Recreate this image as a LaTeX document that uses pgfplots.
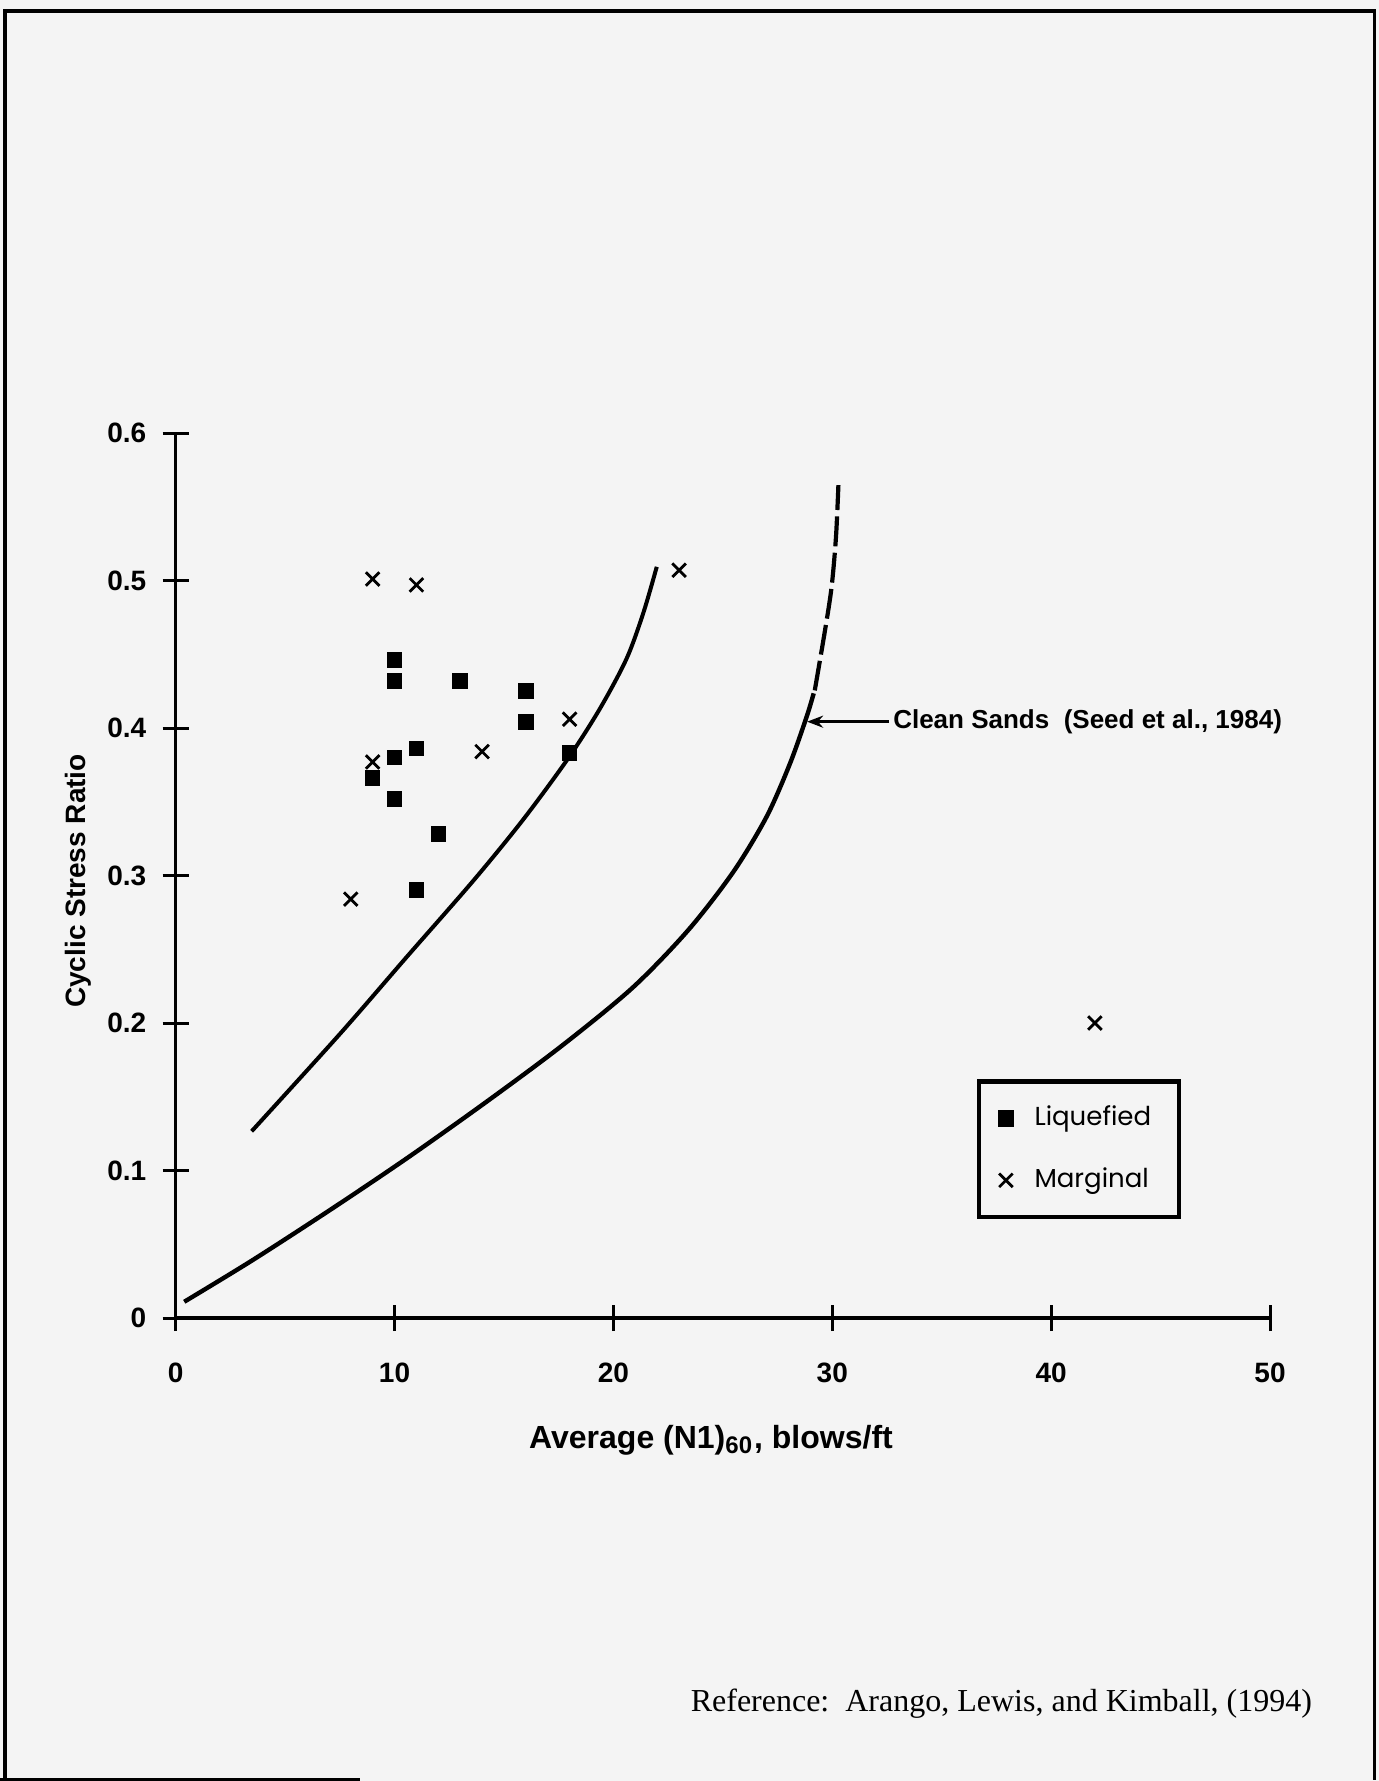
\documentclass[border=0pt]{standalone}
\usepackage{fontspec}
\setmainfont{Liberation Sans}
\newfontfamily\reffont{Liberation Serif}
\newfontfamily\legfont{Poppins}
\usepackage{pgfplots}
\pgfplotsset{compat=1.18}
\usetikzlibrary{arrows.meta}
\definecolor{paper}{RGB}{244,244,244}

\begin{document}
\begin{tikzpicture}
\fill[paper] (0,0) rectangle (344.75pt,-445.25pt);
\useasboundingbox (0,0) rectangle (344.75pt,-445.25pt);
\draw[line width=0.9pt] (1.2pt,-444.9pt) -- (1.2pt,-2.8pt) -- (343.6pt,-2.8pt) -- (343.6pt,-444.9pt);
\draw[line width=0.9pt] (0pt,-444.9pt) -- (90pt,-444.9pt);
\node[font=\reffont\fontsize{8}{9}\selectfont, anchor=base west, inner sep=0pt] at (172.5pt,-427.9pt) {Reference:\ \ Arango, Lewis, and Kimball, (1994)};
\begin{axis}[
  at={(43.925pt,-329.5pt)}, anchor=south west,
  scale only axis, width=273.575pt, height=221.25pt,
  xmin=0, xmax=50, ymin=0, ymax=0.6,
  axis lines=left, axis line style={-},
  x axis line style={line width=1.2pt},
  y axis line style={line width=0.75pt},
  xtick={0,10,20,30,40,50},
  ytick={0,0.1,0.2,0.3,0.4,0.5,0.6},
  tick align=center, major tick length=6.5pt,
  tick style={line width=0.75pt, black},
  /pgf/number format/assume math mode=true,
  ticklabel style={font=\bfseries\fontsize{7}{8}\selectfont},
  xticklabel style={anchor=center, inner sep=0pt, yshift=-10.4pt},
  yticklabel style={anchor=east, inner sep=0pt, xshift=-3.9pt},
  clip=false,
  legend image code/.code={\draw[#1, line width=0.6pt] plot coordinates {(0pt,0pt)};},
  legend style={at={(axis cs:36.6,0.1618)}, anchor=north west, draw=black, line width=1.1pt, fill=none,
    inner xsep=5pt, inner ysep=4pt, row sep=5pt,
    font=\legfont\fontsize{6.5}{8}\selectfont,
    /tikz/every odd column/.append style={column sep=3.4pt}},
  legend cell align=left,
]
% boundary curves
\addplot[black, line width=1pt, smooth, forget plot] coordinates {
  (3.47,0.1266) (7.51,0.1927) (10.55,0.2447) (13.6,0.2965) (15.88,0.338)
  (17.94,0.3796) (19.39,0.4133) (20.6,0.447) (21.37,0.4782) (21.98,0.5093)
};
\addplot[black, line width=1.1pt, smooth, forget plot] coordinates {
  (0.39,0.011) (3.52,0.0393) (7.17,0.0744) (10.67,0.1094) (14.33,0.148)
  (17.68,0.185) (20.88,0.224) (23.42,0.263) (25.48,0.3025) (27.0,0.3399)
  (28.07,0.376) (28.83,0.4077) (29.15,0.4235)
};
\addplot[black, line width=1.05pt, smooth, dash pattern=on 7.5pt off 1.6pt, forget plot] coordinates {
  (29.2,0.4255) (29.67,0.4664) (29.97,0.4958) (30.17,0.5297) (30.28,0.5647)
};
% Liquefied
\addplot[only marks, mark=square*, mark size=1.75pt, black] coordinates {
  (10,0.446) (10,0.432) (13,0.432) (16,0.425) (16,0.404) (18,0.383)
  (11,0.386) (10,0.380) (9,0.366) (10,0.352) (12,0.328) (11,0.290)
};
\addlegendentry{Liquefied}
% Marginal
\addplot[only marks, mark=x, mark size=2.4pt, black, mark options={line width=0.7pt}] coordinates {
  (9,0.501) (11,0.497) (23,0.507) (18,0.406) (14,0.384) (9,0.377) (8,0.284) (42,0.200)
};
\addlegendentry{Marginal}
\draw[line width=0.8pt, -{Stealth[length=4pt,width=3pt]}] (axis cs:32.6,0.4043) -- (axis cs:28.85,0.4043);
\node[anchor=west, inner sep=0pt, font=\bfseries\fontsize{6.5}{8}\selectfont] at (axis cs:32.75,0.4043) {Clean Sands\ \ (Seed et al., 1984)};
\node[font=\bfseries\fontsize{8}{9}\selectfont] at (axis cs:24.46,-0.0827) {Average (N1)\textsubscript{60}, blows/ft};
\node[rotate=90, font=\bfseries\fontsize{7}{9}\selectfont] at (axis cs:-4.46,0.2963) {Cyclic Stress Ratio};
\end{axis}
\end{tikzpicture}
\end{document}
